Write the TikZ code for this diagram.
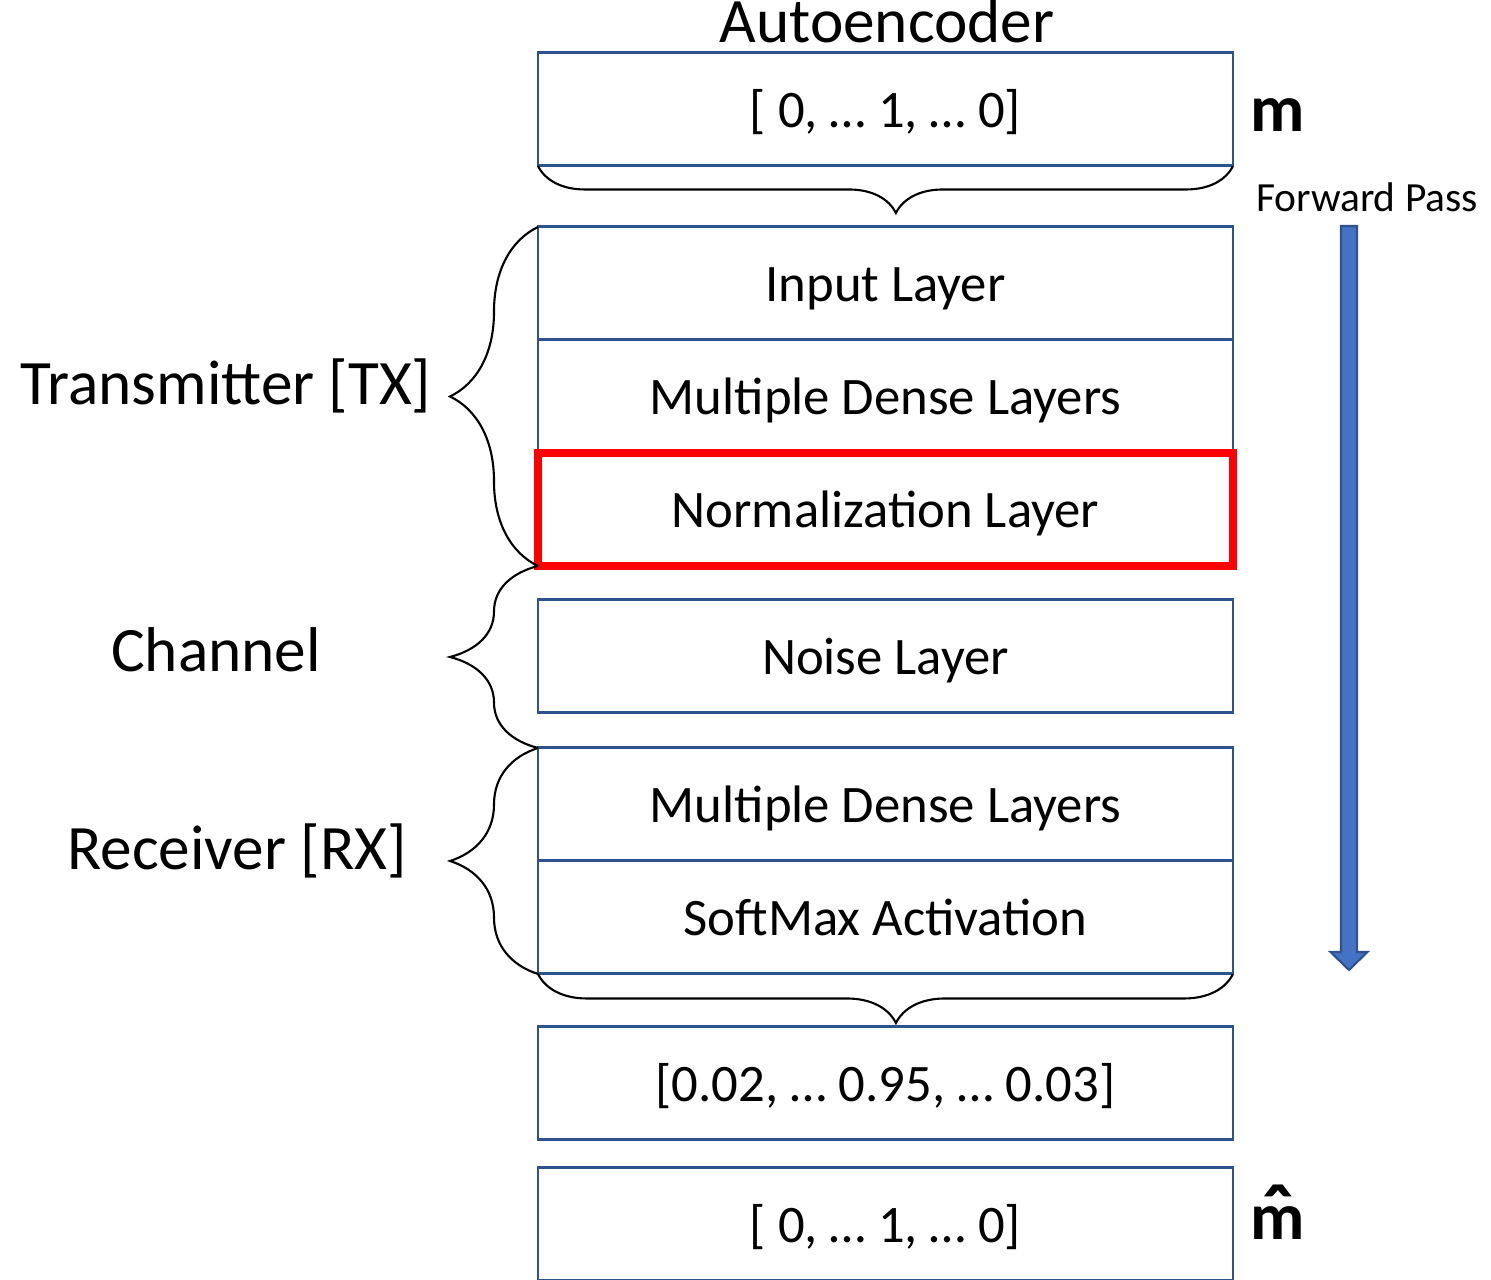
\documentclass[tikz,border=0pt]{standalone}
\usepackage{fontspec}
\usepackage{graphicx}
\setmainfont{Carlito}
\usetikzlibrary{positioning,decorations.pathreplacing}
\begin{document}
\begin{tikzpicture}[
  layer/.style={draw=boxblue, line width=0.85pt, minimum width=6.95cm, minimum height=1.13cm,
    outer sep=0pt, inner sep=0pt, text height=13pt, text depth=2.5pt, font=\fontsize{15}{18}\selectfont},
  curly/.style={decorate, decoration={brace, amplitude=#1}, line width=0.6pt},
  side/.style={font=\fontsize{18}{22}\selectfont, anchor=base},
  vec/.style={anchor=base, font=\fontsize{19}{22}\selectfont\bfseries}]
  \definecolor{boxblue}{HTML}{2F528F}
  \definecolor{arrowblue}{HTML}{4472C4}
  \useasboundingbox (0,0) rectangle (14.91,-12.80);

  \node[side] (title) at (8.87,-0.43) {Autoencoder};
  \node[layer] (mvec) at (8.855,-1.095) {[ 0, … 1, … 0]};
  \node[vec] (m) at (12.78,-1.32) {m};

  \node[layer] (inp) at (8.855,-2.835) {Input Layer};
  \node[layer, below=0pt of inp] (txd) {Multiple Dense Layers};
  \node[layer, below=0pt of txd, draw=red, line width=2.3pt] (norm) {Normalization Layer};
  \node[layer] (noise) at (8.855,-6.565) {Noise Layer};
  \node[layer] (rxd) at (8.855,-8.045) {Multiple Dense Layers};
  \node[layer, below=0pt of rxd] (soft) {SoftMax Activation};
  \node[layer] (prob) at (8.855,-10.83) {[0.02, … 0.95, … 0.03]};
  \node[layer] (mout) at (8.855,-12.245) {[ 0, … 1, … 0]};
  \node[vec] (mhat) at (12.78,-12.40)
    {\ooalign{m\cr\hidewidth\raisebox{-0.1em}{\scalebox{1.25}[1.35]{ˆ}}\hidewidth\cr}};

  \draw[curly=0.47cm, decoration={aspect=0.485}] (mvec.south east) -- (mvec.south west);
  \draw[curly=0.88cm] (norm.south west) -- (inp.north west);
  \draw[curly=0.88cm] (rxd.north west) -- (norm.south west);
  \draw[curly=0.88cm] (soft.south west) -- (rxd.north west);
  \draw[curly=0.49cm, decoration={aspect=0.485}] (soft.south east) -- (soft.south west);

  \node[side] (tx) at (2.26,-4.05) {Transmitter [TX]};
  \node[side] (ch) at (2.16,-6.72) {Channel};
  \node[side] (rx) at (2.37,-8.70) {Receiver [RX]};

  \node[anchor=base, font=\fontsize{11.8}{14}\selectfont] (fwd) at (13.67,-2.12) {Forward Pass};
  \draw[boxblue, fill=arrowblue, line width=0.6pt] (13.41,-2.26) -- (13.57,-2.26) -- (13.57,-9.52)
    -- (13.675,-9.52) -- (13.49,-9.70) -- (13.305,-9.52) -- (13.41,-9.52) -- cycle;
\end{tikzpicture}
\end{document}
